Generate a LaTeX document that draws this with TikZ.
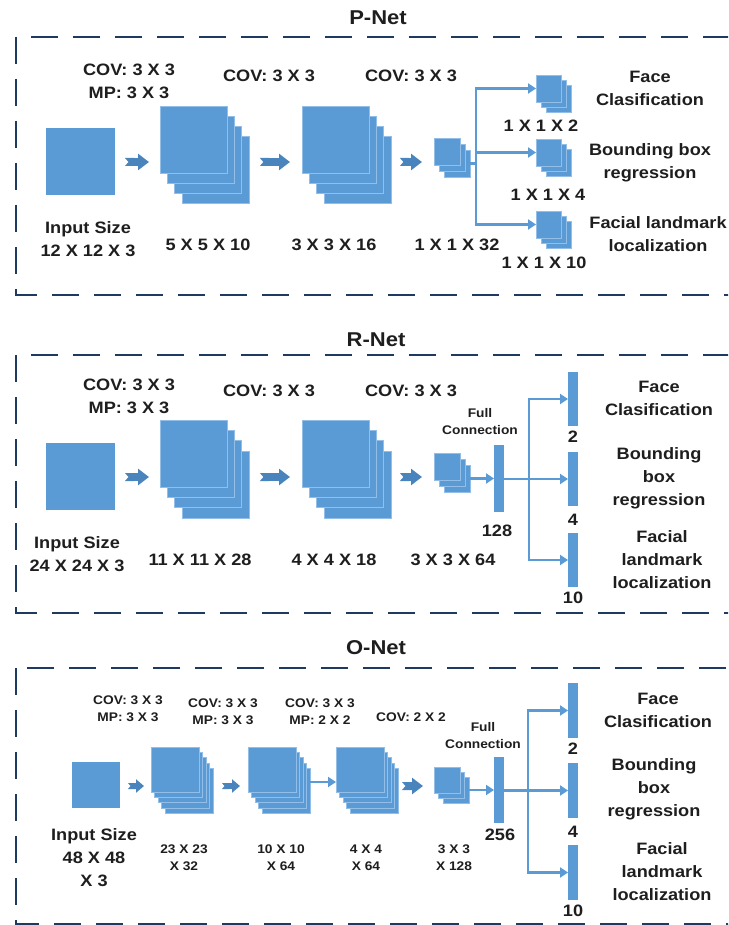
\documentclass[tikz,border=0pt]{standalone}
\usepackage{fontspec}
\setmainfont[FakeStretch=1.1]{Liberation Sans}
\usetikzlibrary{arrows.meta,calc}
\definecolor{netblue}{HTML}{5B9BD5}
\definecolor{edgeblue}{HTML}{93BEE7}
\definecolor{arrowblue}{HTML}{4A84BD}
\definecolor{navy}{HTML}{1F3A60}
\definecolor{textc}{HTML}{1E1E1E}
\newcommand\layerstack[8]{%
  \foreach \i in {#6,...,0}{%
    \node[layer, minimum width=#4pt, minimum height=#5pt, anchor=north west] (#1-\i) at ({#2+\i*#7},{#3+\i*#8}) {};
  }%
}
\tikzset{
  layer/.style={rectangle, fill=netblue, draw=edgeblue, line width=0.5pt, inner sep=0pt, outer sep=0pt},
  solid block/.style={rectangle, fill=netblue, inner sep=0pt, outer sep=0pt, anchor=north west},
  txt/.style={inner sep=0pt, font=\bfseries\fontsize{16.5}{23}\selectfont, text=textc, align=center},
  small/.style={inner sep=0pt, font=\bfseries\fontsize{12.5}{17}\selectfont, text=textc, align=center},
  nettitle/.style={inner sep=0pt, font=\bfseries\fontsize{20}{24}\selectfont, text=textc},
  blockarr/.style={draw=arrowblue, line width=8pt, {Triangle Cap[reversed,length=3.5pt]}-{Triangle[length=11pt,width=16pt]}},
  blockarrs/.style={draw=arrowblue, line width=6pt, {Triangle Cap[reversed,length=2.5pt]}-{Triangle[length=8pt,width=13pt]}},
  conn/.style={draw=netblue, line width=2.6pt, line join=miter},
  connarr/.style={conn, -{Triangle[length=8pt,width=10pt]}},
  netbox/.style={draw=navy, line width=1.8pt, dash pattern=on 27pt off 15pt},
}
\begin{document}
\begin{tikzpicture}[x=1pt,y=-1pt]
\useasboundingbox (0,0) rectangle (728,925);
\fill[white] (0,0) rectangle (728,925);
\clip (0,0) rectangle (728,925);

% ================= P-Net =================
\node[nettitle] (ptitle) at (378,18) {P-Net};
\draw[netbox] (16,37) rectangle (745,295);
\node[txt] (pl1) at (129,81.5) {COV: 3 X 3\\MP: 3 X 3};
\node[txt] (pl2) at (269,76) {COV: 3 X 3};
\node[txt] (pl3) at (411,76) {COV: 3 X 3};

\node[solid block, minimum width=69pt, minimum height=67pt] (pin) at (46,128) {};
\layerstack{ps1}{160}{106}{67}{67}{3}{7.3}{10}
\layerstack{ps2}{302}{106}{67}{67}{3}{7.3}{10}
\layerstack{pc}{434}{138}{26}{27}{2}{5}{6}
\layerstack{po1}{536}{75}{25}{27}{2}{5}{5}
\layerstack{po2}{536}{139}{25}{27}{2}{5}{5}
\layerstack{po3}{536}{211}{25}{27}{2}{5}{5}

\coordinate (prow) at (0,162);
\draw[blockarr, shorten <=10pt, shorten >=11pt] (pin.east |- prow) -- (ps1-0.west |- prow);
\draw[blockarr, shorten <=11pt, shorten >=12pt] (ps1-3.east |- prow) -- (ps2-0.west |- prow);
\draw[blockarr, shorten <=9pt, shorten >=12pt] (ps2-3.east |- prow) -- (pc-0.west |- prow);

\coordinate (pj) at (476,163.5);
\draw[conn] (pc-2.east) -- (pj);
\draw[connarr] (pj) -- (pj |- po1-0.west) -- (po1-0.west);
\draw[connarr] (pj |- po2-0.west) -- (po2-0.west);
\draw[connarr] (pj) -- (pj |- po3-0.west) -- (po3-0.west);

\node[txt] (pl4) at (88,239) {Input Size\\12 X 12 X 3};
\node[txt] (pl5) at (208,245) {5 X 5 X 10};
\node[txt] (pl6) at (334,245) {3 X 3 X 16};
\node[txt] (pl7) at (457,245) {1 X 1 X 32};
\node[txt] (pl8) at (541,126) {1 X 1 X 2};
\node[txt] (pl9) at (548,195) {1 X 1 X 4};
\node[txt] (pl10) at (544,263) {1 X 1 X 10};
\node[txt] (pr1) at (650,88.5) {Face\\Clasification};
\node[txt] (pr2) at (650,163) {Bounding box\\regression};
\node[txt] (pr3) at (658,234) {Facial landmark\\localization};

% ================= R-Net =================
\node[nettitle] (rtitle) at (376,340) {R-Net};
\draw[netbox] (16,355) rectangle (745,613);
\node[txt] (rl1) at (129,396) {COV: 3 X 3\\MP: 3 X 3};
\node[txt] (rl2) at (269,391) {COV: 3 X 3};
\node[txt] (rl3) at (411,391) {COV: 3 X 3};
\node[small] (rfull) at (480,421.5) {Full\\Connection};

\node[solid block, minimum width=69pt, minimum height=67pt] (rin) at (46,443) {};
\layerstack{rs1}{160}{420}{67}{67}{3}{7.3}{10.3}
\layerstack{rs2}{302}{420}{67}{67}{3}{7.3}{10.3}
\layerstack{rc}{434}{453}{26}{27}{2}{5}{6}
\node[solid block, minimum width=10pt, minimum height=67pt] (rfc) at (494,445) {};
\node[solid block, minimum width=10pt, minimum height=54pt] (ro1) at (568,372) {};
\node[solid block, minimum width=10pt, minimum height=54pt] (ro2) at (568,452) {};
\node[solid block, minimum width=10pt, minimum height=54pt] (ro3) at (568,533) {};

\coordinate (rrow) at (0,477);
\draw[blockarr, shorten <=10pt, shorten >=11pt] (rin.east |- rrow) -- (rs1-0.west |- rrow);
\draw[blockarr, shorten <=11pt, shorten >=12pt] (rs1-3.east |- rrow) -- (rs2-0.west |- rrow);
\draw[blockarr, shorten <=9pt, shorten >=12pt] (rs2-3.east |- rrow) -- (rc-0.west |- rrow);
\draw[connarr] (rc-2.east) -- (rfc.west |- rc-2.east);

\coordinate (rj) at (529,478.5);
\draw[connarr] (rfc.east |- ro2.west) -- (ro2.west);
\draw[connarr] (rj) -- (rj |- ro1.west) -- (ro1.west);
\draw[connarr] (rj) -- (rj |- ro3.west) -- (ro3.west);

\node[txt] (rn128) at (497,531) {128};
\node[txt] (rn2) at (573,437) {2};
\node[txt] (rn4) at (573,520) {4};
\node[txt] (rn10) at (573,598) {10};
\node[txt] (rl4) at (77,554.5) {Input Size\\24 X 24 X 3};
\node[txt] (rl5) at (200,560) {11 X 11 X 28};
\node[txt] (rl6) at (334,560) {4 X 4 X 18};
\node[txt] (rl7) at (453,560) {3 X 3 X 64};
\node[txt] (rr1) at (659,398) {Face\\Clasification};
\node[txt] (rr2) at (659,478.5) {Bounding\\box\\regression};
\node[txt] (rr3) at (662,560) {Facial\\landmark\\localization};

% ================= O-Net =================
\node[nettitle] (otitle) at (376,648) {O-Net};
\draw[netbox] (16,668) rectangle (745,924);
\node[small] (ol1) at (128,708.5) {COV: 3 X 3\\MP: 3 X 3};
\node[small] (ol2) at (223,711.5) {COV: 3 X 3\\MP: 3 X 3};
\node[small] (ol3) at (320,711.5) {COV: 3 X 3\\MP: 2 X 2};
\node[small] (ol4) at (411,717) {COV: 2 X 2};
\node[small] (ofull) at (483,736) {Full\\Connection};

\node[solid block, minimum width=48pt, minimum height=46pt] (oin) at (72,762) {};
\layerstack{os1}{151}{747}{48}{45}{4}{3.5}{5.25}
\layerstack{os2}{248}{747}{48}{45}{4}{3.5}{5.25}
\layerstack{os3}{336}{747}{48}{45}{4}{3.5}{5.25}
\layerstack{oc}{434}{767}{26}{26}{2}{4.5}{5}
\node[solid block, minimum width=10pt, minimum height=66pt] (ofc) at (494,757) {};
\node[solid block, minimum width=10pt, minimum height=55pt] (oo1) at (568,683) {};
\node[solid block, minimum width=10pt, minimum height=55pt] (oo2) at (568,763) {};
\node[solid block, minimum width=10pt, minimum height=55pt] (oo3) at (568,845) {};

\coordinate (orow) at (0,786);
\coordinate (orow2) at (0,782);
\draw[blockarrs, shorten <=8pt, shorten >=7pt] (oin.east |- orow) -- (os1-0.west |- orow);
\draw[blockarrs, shorten <=9pt, shorten >=8pt] (os1-4.east |- orow) -- (os2-0.west |- orow);
\draw[connarr] (os2-4.east |- orow2) -- (os3-0.west |- orow2);
\draw[blockarr, shorten <=4pt, shorten >=11pt] (os3-4.east |- orow) -- (oc-0.west |- orow);
\draw[connarr] (oc-2.east) -- (ofc.west |- oc-2.east);

\coordinate (oj) at (528,790.5);
\draw[connarr] (ofc.east |- oo2.west) -- (oo2.west);
\draw[connarr] (oj) -- (oj |- oo1.west) -- (oo1.west);
\draw[connarr] (oj) -- (oj |- oo3.west) -- (oo3.west);

\node[txt] (on256) at (500,835) {256};
\node[txt] (on2) at (573,749) {2};
\node[txt] (on4) at (573,832) {4};
\node[txt] (on10) at (573,911) {10};
\node[txt] (ol5) at (94,857.5) {Input Size\\48 X 48\\X 3};
\node[small] (ol6) at (184,857.5) {23 X 23\\X 32};
\node[small] (ol7) at (281,857.5) {10 X 10\\X 64};
\node[small] (ol8) at (366,857.5) {4 X 4\\X 64};
\node[small] (ol9) at (454,857.5) {3 X 3\\X 128};
\node[txt] (or1) at (658,710.5) {Face\\Clasification};
\node[txt] (or2) at (654,789) {Bounding\\box\\regression};
\node[txt] (or3) at (662,872) {Facial\\landmark\\localization};
\end{tikzpicture}
\end{document}
